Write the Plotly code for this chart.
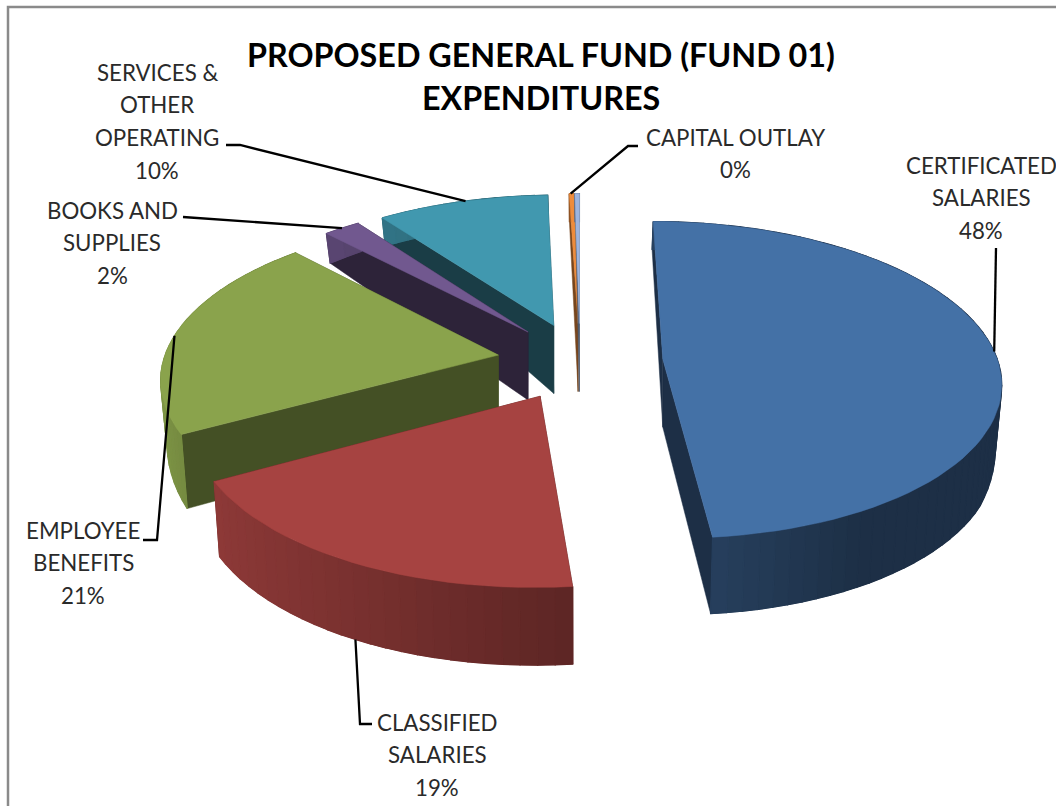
import numpy as np
import plotly.graph_objects as go

# Budget categories and their share of the fund (percent)
CATEGORIES = ["CERTIFICATED<br>SALARIES", "CLASSIFIED<br>SALARIES", "EMPLOYEE<br>BENEFITS",
              "BOOKS AND<br>SUPPLIES", "SERVICES &<br>OTHER<br>OPERATING", "CAPITAL OUTLAY", ""]
VALUES = [48.45, 18.55, 20.9, 2.05, 9.55, 0.25, 0.25]
TOP_COLORS = ["#4471A6", "#A64341", "#8AA34C", "#71588F", "#4198AF", "#EE8C3C", "#9DB4DE"]
CUT_SHADE = [0.42, 0.45, 0.49, 0.40, 0.40, 0.50, 0.50]
TITLE_LINES = ["PROPOSED GENERAL FUND (FUND 01)", "EXPENDITURES"]

# Perspective pie geometry, in page pixels
VX, CY = 580.0, 361.0
RADIUS, PULL = 335.0, 83.0
CAMERA, FORESHORTEN = 2556.0, 0.466
APEX_DROP = 68.0
BACK_TO_FRONT = [5, 6, 4, 3, 2, 1, 0]

# Label placement: centre x, y of first line, line pitch
LABEL_POS = [(981, 165), (437, 722), (83, 530), (112, 210), (157, 72), (735, 137), None]
LINE_PITCH = 32.7
# Leader lines: fixed label-side points, then the fraction along the slice rim they reach
LEADER_POINTS = [[(996, 248)], [(372, 724), (360, 724)], [(143, 540), (157, 540)],
                 [(183, 217)], [(226, 145), (240, 145)], [(638, 146), (628, 146)], None]
LEADER_RIM = [0.50, 0.50, 0.48, 0.50, 0.52, 0.3, None]
LEADER_ON_LOWER_RIM = [False, True, False, False, False, False, False]


def project(x, y):
    s = CAMERA / (CAMERA - y)
    return VX + x * s, CY + FORESHORTEN * y * s


def drop_at(y):
    return np.interp(y / RADIUS, [-1.0, -0.8, 0.1, 0.44, 1.3], [28, 32, 60, 74, 78])


def shade(hex_color, factor):
    r, g, b = (int(hex_color[i:i + 2], 16) for i in (1, 3, 5))
    return f"rgb({r * factor:.0f},{g * factor:.0f},{b * factor:.0f})"


def wall_factor(theta):
    return np.interp(np.sin(theta), [-1.0, -0.876, 0.125, 0.5, 1.0], [0.92, 0.85, 0.55, 0.42, 0.42])


def rim(theta, mid):
    x = PULL * np.sin(mid) + RADIUS * np.sin(theta)
    y = -PULL * np.cos(mid) - RADIUS * np.cos(theta)
    sx, sy = project(x, y)
    return sx, sy, sx - (sx - VX) * 0.015, sy + drop_at(y)


def polygon(xs, ys, color, width=1.0):
    return go.Scatter(x=list(xs), y=list(ys), mode="lines", fill="toself", fillcolor=color,
                      line=dict(color=color, width=width), hoverinfo="skip", showlegend=False)


fractions = np.array(VALUES) / sum(VALUES)
edges = np.concatenate([[0.0], np.cumsum(fractions)]) * 2 * np.pi

fig = go.Figure()

for i in BACK_TO_FRONT:
    start, end = edges[i], edges[i + 1]
    mid = (start + end) / 2
    ax, ay = project(PULL * np.sin(mid), -PULL * np.cos(mid))
    thetas = np.linspace(start, end, max(3, int((end - start) * 24)))
    tx, ty, lx, ly = rim(thetas, mid)
    cut = shade(TOP_COLORS[i], CUT_SHADE[i])

    # Cut faces, the far one first
    far, near = (0, -1) if tx[0] > tx[-1] and ty[0] < ty[-1] else (-1, 0)
    for e in (far, near):
        fig.add_trace(polygon([tx[e], ax, ax, lx[e], tx[e]],
                              [ty[e], ay, ay + APEX_DROP, ly[e], ty[e]], cut, 0.5))
    # Outer wall, shaded band by band over a solid base
    base = shade(TOP_COLORS[i], float(wall_factor(mid)))
    fig.add_trace(polygon([*tx, *lx[::-1], tx[0]], [*ty, *ly[::-1], ty[0]], base, 0.5))
    for j in range(len(thetas) - 1):
        band = shade(TOP_COLORS[i], wall_factor((thetas[j] + thetas[j + 1]) / 2))
        fig.add_trace(polygon([tx[j], tx[j + 1], lx[j + 1], lx[j], tx[j]],
                              [ty[j], ty[j + 1], ly[j + 1], ly[j], ty[j]], band, 1.2))
    # Top face
    fig.add_trace(polygon([ax, *tx, ax], [ay, *ty, ay], TOP_COLORS[i], 0.5))

# Chart frame
fig.add_trace(go.Scatter(x=[8, 8, 1056], y=[806, 7, 7], mode="lines",
                         line=dict(color="#8A8A8A", width=2.5), hoverinfo="skip", showlegend=False))

annotations = []
for i, name in enumerate(CATEGORIES):
    if LABEL_POS[i] is None:
        continue
    # Leader line from the label to the slice rim
    theta = edges[i] + LEADER_RIM[i] * (edges[i + 1] - edges[i])
    tx, ty, lx, ly = rim(theta, (edges[i] + edges[i + 1]) / 2)
    end = (lx, ly) if LEADER_ON_LOWER_RIM[i] else (tx, ty)
    pts = LEADER_POINTS[i] + [end]
    fig.add_trace(go.Scatter(x=[p[0] for p in pts], y=[p[1] for p in pts], mode="lines",
                             line=dict(color="#000000", width=2.3), hoverinfo="skip", showlegend=False))
    # Category text and rounded share, one annotation per line
    cx, y0 = LABEL_POS[i]
    lines = name.split("<br>") + [f"{fractions[i] * 100:.0f}%"]
    for k, text in enumerate(lines):
        annotations.append(dict(x=cx, y=y0 + k * LINE_PITCH, text=text, showarrow=False,
                                xanchor="center", yanchor="middle",
                                font=dict(family="Lato", size=22.3, color="#2A2A2A")))

for y, text in zip([54, 97], TITLE_LINES):
    annotations.append(dict(x=541, y=y, text=f"<b>{text}</b>", showarrow=False, xanchor="center",
                            yanchor="middle", font=dict(family="Lato", size=32.3, color="#000000")))

fig.update_layout(
    width=1056, height=806, margin=dict(l=0, r=0, t=0, b=0),
    paper_bgcolor="#FFFFFF", plot_bgcolor="#FFFFFF", annotations=annotations,
    xaxis=dict(range=[0, 1056], visible=False, fixedrange=True),
    yaxis=dict(range=[806, 0], visible=False, fixedrange=True),
)
fig.write_html("out.html", config=dict(displayModeBar=False))
